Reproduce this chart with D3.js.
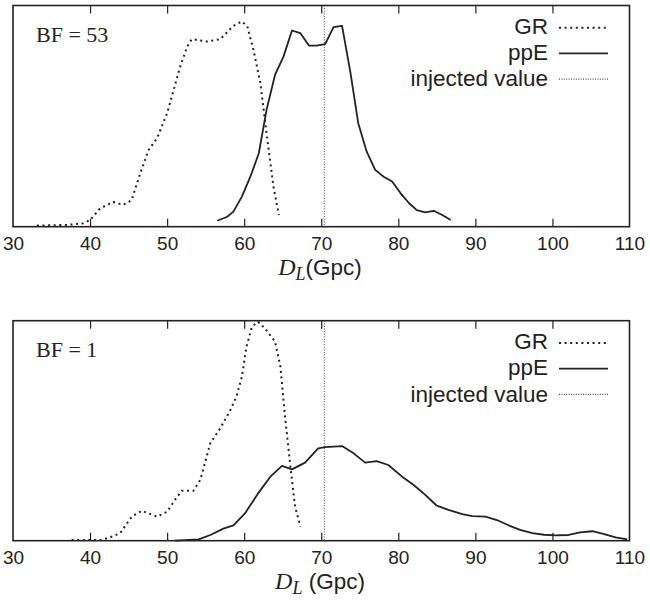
<!DOCTYPE html>
<html>
<head>
<meta charset="utf-8">
<script src="https://cdn.jsdelivr.net/npm/d3@7"></script>
<style>
  body { margin: 0; background: #fff; }
  text { fill: #222; }
</style>
</head>
<body>
<svg id="chart" width="650" height="606"></svg>
<script>
// x axis (Gpc)
const xTicks = [30, 40, 50, 60, 70, 80, 90, 100, 110];
const injected = 70.4;
const legendLabels = ["GR", "ppE", "injected value"];

// panel 1, BF = 53  -> [D_L, relative density]
const gr53 = [[33.1,0.005],[37.0,0.008],[39.1,0.015],[40.0,0.03],[41.3,0.083],[43.0,0.112],[44.3,0.098],
  [45.4,0.12],[46.5,0.24],[47.6,0.347],[48.7,0.40],[50.0,0.513],[50.8,0.613],[51.7,0.724],[52.6,0.814],
  [53.2,0.848],[55.2,0.837],[56.9,0.848],[58.6,0.908],[59.7,0.928],[60.4,0.906],[61.2,0.80],[62.1,0.649],
  [62.9,0.422],[63.8,0.181],[64.5,0.053]];
const ppe53 = [[56.5,0.027],[57.8,0.045],[58.6,0.068],[59.7,0.136],[60.8,0.226],[61.9,0.332],[62.9,0.528],
  [64.0,0.686],[65.1,0.769],[66.2,0.887],[67.3,0.875],[68.4,0.819],[69.4,0.819],[70.5,0.825],[71.6,0.902],
  [72.7,0.908],[73.8,0.694],[74.8,0.468],[75.9,0.339],[77.0,0.257],[78.1,0.226],[79.2,0.204],[80.3,0.151],
  [81.4,0.106],[82.4,0.075],[83.5,0.065],[84.6,0.072],[85.7,0.053],[86.8,0.030]];

// panel 2, BF = 1
const gr1 = [[37.6,0.003],[41.3,0.003],[42.6,0.015],[43.9,0.034],[45.4,0.109],[46.7,0.136],[48.7,0.109],
  [50.0,0.132],[51.0,0.185],[51.9,0.227],[53.4,0.227],[54.3,0.276],[55.6,0.443],[56.9,0.511],[58.2,0.594],
  [59.0,0.655],[59.7,0.745],[60.3,0.882],[61.0,0.973],[61.8,0.995],[62.7,0.965],[64.0,0.905],[64.7,0.791],
  [65.3,0.564],[66.0,0.336],[66.6,0.155],[67.3,0.064]];
const ppe1 = [[51.0,0.0],[54.1,0.006],[55.6,0.026],[57.3,0.055],[58.6,0.07],[60.1,0.124],[61.8,0.215],
  [63.4,0.291],[64.9,0.34],[66.2,0.324],[67.9,0.355],[69.6,0.42],[70.5,0.425],[72.7,0.43],[74.2,0.397],
  [75.7,0.355],[77.2,0.362],[78.7,0.344],[80.5,0.291],[82.0,0.253],[83.5,0.208],[85.0,0.159],[86.5,0.14],
  [88.3,0.121],[89.6,0.112],[91.3,0.109],[92.8,0.094],[94.3,0.07],[95.8,0.049],[97.4,0.034],[98.9,0.027],
  [100.4,0.024],[102.1,0.026],[103.6,0.038],[105.2,0.043],[106.7,0.03],[108.2,0.015],[109.7,0.006]];

const svg = d3.select("#chart");
const left = 13, right = 629.5;
const ink = "#222";

const x = d3.scaleLinear().domain([30, 110]).range([left, right]);

function panel(top, bottom, bf, gr, ppe, spaced) {
	let y = d3.scaleLinear().domain([0, 1]).range([bottom, top]);
	let g = svg.append("g");
	let line = d3.line().x(d => x(d[0])).y(d => y(d[1]));

	// injected value
	g.append("line")
		.attr("x1", x(injected)).attr("x2", x(injected))
		.attr("y1", top).attr("y2", bottom)
		.style("stroke", "#444").style("stroke-width", 1)
		.style("stroke-dasharray", "1,1.6");

	g.append("path").datum(gr)
		.attr("d", line)
		.style("fill", "none").style("stroke", ink)
		.style("stroke-width", 2).style("stroke-dasharray", "2,3.6");

	g.append("path").datum(ppe)
		.attr("d", line)
		.style("fill", "none").style("stroke", ink)
		.style("stroke-width", 1.8).style("stroke-linejoin", "round");

	// inward ticks top and bottom
	let inner = xTicks.slice(1, -1);
	g.append("g")
		.attr("transform", `translate(0,${bottom})`)
		.call(d3.axisBottom(x).tickValues(xTicks).tickSize(0).tickPadding(10))
		.call(a => a.select(".domain").remove())
		.selectAll("text")
		.style("font-family", "'Liberation Sans', Arial, sans-serif")
		.style("font-size", "19px").style("fill", ink);
	g.append("g")
		.attr("transform", `translate(0,${bottom})`)
		.call(d3.axisBottom(x).tickValues(inner).tickSize(-8).tickFormat(""))
		.call(a => a.select(".domain").remove())
		.selectAll("line").style("stroke", ink).style("stroke-width", 1.2);
	g.append("g")
		.attr("transform", `translate(0,${top})`)
		.call(d3.axisTop(x).tickValues(inner).tickSize(-8).tickFormat(""))
		.call(a => a.select(".domain").remove())
		.selectAll("line").style("stroke", ink).style("stroke-width", 1.2);

	g.append("rect")
		.attr("x", left).attr("y", top)
		.attr("width", right - left).attr("height", bottom - top)
		.style("fill", "none").style("stroke", ink).style("stroke-width", 1.6);

	g.append("text")
		.attr("x", 36).attr("y", top + 36)
		.style("font-family", "'Liberation Serif', 'Times New Roman', serif")
		.style("font-size", "22px")
		.text("BF = " + bf);

	// legend
	let dashes = ["2,3.6", null, "1,1.4"];
	let widths = [2, 1.8, 1];
	legendLabels.forEach(function(d, i) {
		g.append("text")
			.attr("x", 548).attr("y", top + 28.5 + i * 26.2)
			.attr("text-anchor", "end")
			.style("font-family", "'Liberation Sans', Arial, sans-serif")
			.style("font-size", "22.5px")
			.text(d);
		g.append("line")
			.attr("x1", 559).attr("x2", 608)
			.attr("y1", top + 22.2 + i * 25.7).attr("y2", top + 22.2 + i * 25.7)
			.style("stroke", ink).style("stroke-width", widths[i])
			.style("stroke-dasharray", dashes[i]);
	});

	// axis title
	let t = g.append("text")
		.attr("x", 320).attr("y", bottom + 48)
		.attr("text-anchor", "middle")
		.style("font-family", "'Liberation Sans', Arial, sans-serif")
		.style("font-size", "22.5px");
	t.append("tspan")
		.style("font-family", "'Liberation Serif', serif").style("font-style", "italic")
		.style("font-size", "24px").text("D");
	t.append("tspan")
		.attr("dy", 5)
		.style("font-family", "'Liberation Serif', serif").style("font-style", "italic")
		.style("font-size", "18px").text("L");
	t.append("tspan")
		.attr("dy", -5)
		.text(spaced ? " (Gpc)" : "(Gpc)");
}

panel(5.5, 226.7, 53, gr53, ppe53, false);
panel(320.7, 540.7, 1, gr1, ppe1, true);
</script>
</body>
</html>
